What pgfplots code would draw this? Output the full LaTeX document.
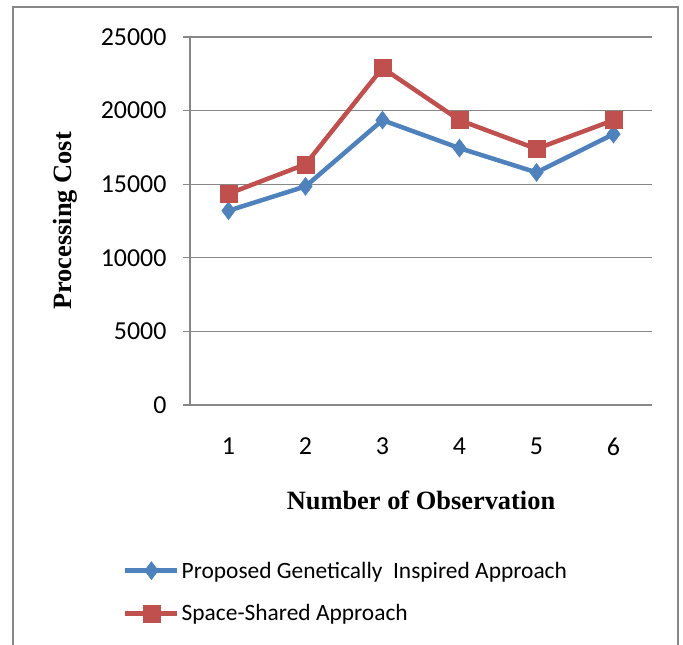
\documentclass[border=0pt]{standalone}
\usepackage{fontspec}
\setmainfont{Carlito}
\newfontfamily\serifb{Liberation Serif}
\usepackage{pgfplots}
\pgfplotsset{compat=1.18}
\definecolor{cblue}{HTML}{4F81BD}
\definecolor{cred}{HTML}{C0504D}
\definecolor{gridgray}{HTML}{878787}
\begin{document}
\begin{tikzpicture}[x=1bp,y=1bp]
\useasboundingbox (0,0) rectangle (683,645);
\draw[gridgray, line width=1.5bp] (13,-10) -- (13,638) -- (678,638) -- (678,-10);
\begin{axis}[
  at={(190bp,240bp)}, anchor=south west,
  scale only axis, width=462bp, height=368bp,
  xmin=0.5, xmax=6.5, ymin=0, ymax=25000,
  xtick={1,2,3,4,5,6},
  ytick={0,5000,10000,15000,20000,25000},
  axis lines=left, axis line style={-, gridgray, line width=1.2bp},
  ymajorgrids, grid style={gridgray, line width=1.2bp},
  xtick style={draw=none},
  ytick style={gridgray, line width=1.2bp},
  tick align=outside, major tick length=7bp,
  scaled y ticks=false,
  /pgf/number format/1000 sep={},
  /pgf/number format/assume math mode=true,
  tick label style={font=\fontsize{26}{30}\selectfont, text=black},
  xticklabel style={yshift=-22bp},
  yticklabel style={xshift=-13bp},
  xlabel={\serifb\bfseries Number of Observation},
  ylabel={\serifb\bfseries Processing Cost},
  label style={font=\fontsize{26.5}{30}\selectfont},
  xlabel style={yshift=-29bp},
  ylabel style={yshift=17bp},
  legend style={draw=none, fill=none, at={(-0.145,-0.42)}, anchor=north west,
    inner sep=0pt, row sep=21bp, font=\fontsize{23.5}{28}\selectfont,
    legend cell align=left},
  legend image code/.code={\draw[mark repeat=2,mark phase=2] plot coordinates {(0bp,0bp) (26bp,0bp) (52bp,0bp)};},
]
\addplot[cblue, line width=4.5bp, mark=diamond*, mark size=9bp, mark options={line width=0.5bp, fill=cblue}]
  coordinates {(1,13200) (2,14850) (3,19350) (4,17450) (5,15800) (6,18400)};
\addlegendentry{Proposed Genetically\ \ Inspired Approach}
\addplot[cred, line width=4.5bp, mark=square*, mark size=8.5bp, mark options={line width=0.5bp, fill=cred}]
  coordinates {(1,14350) (2,16350) (3,22900) (4,19350) (5,17400) (6,19350)};
\addlegendentry{Space-Shared Approach}
\end{axis}
\end{tikzpicture}
\end{document}
